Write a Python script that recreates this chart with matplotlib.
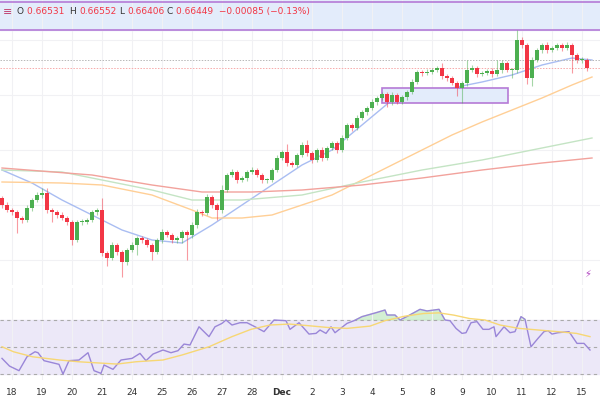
import matplotlib
matplotlib.use("Agg")
import matplotlib.pyplot as plt
import numpy as np
from matplotlib.patches import Rectangle

# price level per chart unit: price = BASE - y*0.0001 (in pixel-like units)
BASE = 0.6710
close_y = [205,210,212,218,220,208,200,195,193,210,212,215,218,222,240,222,222,220,212,210,
           253,258,245,252,262,250,245,238,240,245,252,240,232,235,240,238,232,235,225,212,
           213,197,205,210,190,175,172,180,178,172,170,175,180,180,170,158,152,163,165,155,
           145,153,160,150,158,148,143,150,138,125,128,118,112,108,102,98,94,102,95,102,
           97,92,82,72,73,72,70,68,76,78,83,88,83,70,68,74,73,71,74,70,
           63,70,70,40,45,78,60,50,45,50,48,45,48,45,55,60,60,68]
up_wick = [2,3,2,2,2,3,2,3,5,5,2,2,3,2,2,2,3,2,2,2,
           12,2,3,2,2,2,3,2,2,2,2,2,3,2,2,2,2,2,3,3,
           2,3,2,2,5,2,3,2,2,2,3,2,2,2,2,3,2,8,2,2,
           3,5,2,2,3,2,2,2,3,2,2,3,2,2,3,2,2,2,3,2,
           2,2,3,2,2,3,2,2,5,2,2,2,2,10,3,2,2,2,3,10,
           3,2,2,10,3,2,3,2,2,3,2,2,2,3,2,2,3,2]
lo_wick = [3,2,3,15,3,2,3,2,3,3,10,3,2,3,5,2,3,2,2,3,
           3,8,2,3,15,3,2,10,3,2,8,2,3,2,3,3,5,25,3,3,
           3,2,3,10,3,2,2,3,2,3,2,2,3,3,2,2,2,3,2,2,
           2,3,3,2,3,2,2,3,2,2,3,2,2,3,2,3,2,5,3,2,
           2,3,2,2,3,2,2,2,3,3,2,8,15,3,2,3,2,2,3,2,
           3,2,8,3,3,6,8,2,3,3,2,2,3,2,18,3,3,3]
first_open_y = 198

day_labels = ["18","19","20","21","24","25","26","27","28","Dec","2","3","4","5","8","9","10","11","12","15"]

# moving averages (index, chart units)
ma20_x = [0,6,12,18,24,30,36,42,48,54,60,66,72,78,84,90,96,102,108,114,118]
ma20_y = [170,183,200,215,230,240,243,225,205,185,165,150,125,100,92,88,82,75,65,58,60]
ma50_x = [0,12,20,30,38,42,48,54,60,66,72,78,84,90,96,102,108,114,118]
ma50_y = [182,183,185,195,210,218,218,215,205,195,180,165,150,135,122,110,98,85,77]
ma100_x = [0,12,18,30,38,48,60,72,84,96,108,118]
ma100_y = [170,172,178,190,200,200,195,182,170,160,148,138]
ma200_x = [0,18,30,40,50,60,72,84,96,108,118]
ma200_y = [168,175,185,192,192,190,185,178,170,163,158]

rsi_x = [0,1.5,3.4,5,6.6,7.2,8.4,11.4,12.2,13.4,15.4,17.2,18.4,19.8,20.4,22.2,23.8,26,27.6,28.8,
         30.2,32.2,33.8,35.2,36.4,37.6,39.4,41.4,42.6,44,44.8,46,47.6,49,50.6,52.4,54.4,56.8,57.6,59.4,
         61.4,62.8,63.6,64.8,65.8,66.6,69,70.4,72,74.8,76.6,77,78.6,79.6,81.2,83.6,85,87.4,88.6,89.6,
         90.8,92,92.8,93.8,95,96.2,97.4,98.4,98.8,100.4,101.6,102.6,103.8,104.6,105.8,107.2,108.4,109.2,110,111.2,
         113.4,115,116.4,117.6]
rsi_v = [41.6,35.9,32.5,42.8,46.5,45.8,39.9,37.2,30,39.9,40.4,45.8,32.5,30.5,36.7,33.5,40.4,41.6,45.3,39.9,
         44.8,47.8,45.8,47.3,52.2,51.5,65,57.7,65,67.5,70,66.3,68,68,65,61.4,70,69.5,63.1,68,
         59.6,60.1,62.6,60.1,65,60.6,67.5,69.5,72.5,75.4,77.4,73.7,73.7,70,73,77.9,76.7,77.9,70,69.5,
         63.8,60.1,60.6,68,68.8,63.1,63.1,65,57.7,65,60.6,61.4,72.5,70.5,50.2,56.4,61.4,62.1,59.6,60.6,
         61.4,52.7,52.7,47.8]
rsima_x = [0,2.3,6.1,11.5,15.3,23,26.8,32.2,36,41.4,46,49.8,53.6,57.5,61.3,65.1,69,73.6,76.6,80.5,
           84.3,87.4,90.4,93.5,96.6,99.6,103.4,107.3,111.1,114.9,117.6]
rsima_v = [50.2,46.5,42.8,40.4,39.1,37.4,39.1,40.4,44.1,50.2,57.7,63.1,66.3,67.0,65.8,64.5,63.8,65.5,69.5,72.8,
           74.8,75.3,73.6,71.1,70,66.3,63.8,62.6,61.4,60.1,57.7]

def p(y):
    return BASE - np.asarray(y, dtype=float) * 0.0001

GREEN = "#4caf50"
RED = "#f23645"

fig = plt.figure(figsize=(6, 4), dpi=100)
ax = fig.add_axes([0, 0.2875, 1, 0.7125])
ax2 = fig.add_axes([0, 0.05, 1, 0.23], sharex=ax)

n = len(close_y)
closes = p(close_y)
opens = np.concatenate([[p(first_open_y)], closes[:-1]])
highs = np.maximum(opens, closes) + np.array(up_wick) * 0.0001
lows = np.minimum(opens, closes) - np.array(lo_wick) * 0.0001
for i in range(n):
    c = GREEN if closes[i] >= opens[i] else RED
    ax.vlines(i, lows[i], highs[i], color=c, lw=0.8, alpha=0.5, zorder=3)
    b = min(opens[i], closes[i]); h = max(abs(closes[i] - opens[i]), 0.00008)
    ax.add_patch(Rectangle((i - 0.35, b), 0.7, h, color=c, zorder=4, lw=0))

ax.plot(ma20_x, p(ma20_y), color="#a9bdf2", lw=1)
ax.plot(ma50_x, p(ma50_y), color="#ffcf96", lw=1)
ax.plot(ma100_x, p(ma100_y), color="#c4e4c4", lw=1)
ax.plot(ma200_x, p(ma200_y), color="#f2a29c", lw=1)

xmin, xmax = -0.4, 119.6
ax.axhspan(p(30), p(0), color="#e3ecfb", zorder=1)
ax.axhline(p(30), color="#b57ad6", lw=1.2, zorder=2)
ax.axhline(p(2), color="#b57ad6", lw=1.2, zorder=2)
ax.axhline(p(60), color="#b8b8b8", lw=0.7, ls=(0, (1.5, 1.5)))
ax.axhline(p(68), color="#f7aaaa", lw=0.7, ls=(0, (1.5, 1.5)))
ax.add_patch(Rectangle((76, p(103)), 25.2, 0.0015, facecolor="#e3ecfb", edgecolor="#b57ad6", lw=1.2, zorder=2))

ax.set_xlim(xmin, xmax)
ax.set_ylim(p(285), p(0))
ticks = [2 + 6 * k for k in range(len(day_labels))]
for a in (ax, ax2):
    a.set_xticks(ticks)
    a.grid(True, color="#f1f1f4", lw=0.8)
    for s in a.spines.values():
        s.set_visible(False)
    a.set_yticks([])
ax.tick_params(axis="x", labelbottom=False, length=0)
ax.set_yticks(p([40, 95, 150, 205, 260]))
ax.tick_params(axis="y", labelleft=False, length=0)

ax.text(0.005, 0.975, "\u2261", transform=ax.transAxes, fontsize=8, color="#c04070", va="top")
ax.text(0.027, 0.975, "O", transform=ax.transAxes, fontsize=6.5, color="#333", va="top")
ax.text(0.045, 0.975, "0.66531  ", transform=ax.transAxes, fontsize=6.5, color=RED, va="top")
ax.text(0.115, 0.975, "H", transform=ax.transAxes, fontsize=6.5, color="#333", va="top")
ax.text(0.132, 0.975, "0.66552", transform=ax.transAxes, fontsize=6.5, color=RED, va="top")
ax.text(0.198, 0.975, "L", transform=ax.transAxes, fontsize=6.5, color="#333", va="top")
ax.text(0.212, 0.975, "0.66406", transform=ax.transAxes, fontsize=6.5, color=RED, va="top")
ax.text(0.278, 0.975, "C", transform=ax.transAxes, fontsize=6.5, color="#333", va="top")
ax.text(0.294, 0.975, "0.66449  \u22120.00085 (\u22120.13%)", transform=ax.transAxes, fontsize=6.5, color=RED, va="top")
ax.text(0.98, 0.03, "\u26a1", transform=ax.transAxes, fontsize=7, color="#b040c0", ha="center")

# RSI panel
ax2.axhspan(30, 70, color="#ece8f8", zorder=0)
for lv in (30, 50, 70):
    ax2.axhline(lv, color="#aaaaaa", lw=0.8, ls=(0, (3, 3)))
rx = np.array(rsi_x); rv = np.array(rsi_v)
ax2.fill_between(rx, 70, rv, where=rv > 70, interpolate=True, color="#c9ecc9", alpha=0.8)
ax2.plot(rsi_x, rsi_v, color="#9a86d8", lw=1)
ax2.plot(rsima_x, rsima_v, color="#f7d774", lw=1)
ax2.set_ylim(25.6, 93.7)
ax2.set_xticklabels(day_labels)
ax2.tick_params(axis="x", length=0, labelsize=6.5, labelcolor="#333", pad=6)
for lbl in ax2.get_xticklabels():
    if lbl.get_text() == "Dec":
        lbl.set_fontweight("bold")
fig.savefig("out.png", dpi=100, facecolor="white")
